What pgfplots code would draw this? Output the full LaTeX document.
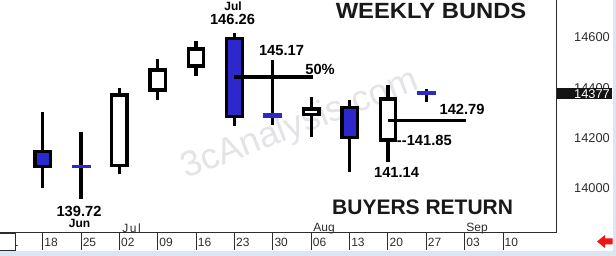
\documentclass[border=0pt]{standalone}
\usepackage{pgfplots}
\pgfplotsset{compat=1.18}
\usepackage{fontspec}
\setmainfont{Liberation Sans}
\definecolor{cblue}{RGB}{46,40,204}
\definecolor{wm}{RGB}{228,228,232}
\definecolor{lblue}{RGB}{220,230,243}
\definecolor{tgray}{RGB}{45,45,45}
\definecolor{arrowred}{RGB}{240,20,20}
\begin{document}
\begin{tikzpicture}[x=1pt,y=1pt]
\useasboundingbox (0pt,0pt) rectangle (616pt,256pt);
\fill[white] (0pt,0pt) rectangle (616pt,256pt);
\fill[lblue] (0pt,0pt) rectangle (616pt,5pt);
\fill[lblue] (612.5pt,0pt) rectangle (616pt,256pt);
\begin{axis}[
  at={(0pt,23pt)}, anchor=south west,
  width=556.7pt, height=233pt, scale only axis,
  xmin=-1.113, xmax=13.40,
  ymin=13823.4, ymax=14748,
  clip=false,
  scaled x ticks=false, scaled y ticks=false,
  axis x line*=bottom, axis y line*=right,
  axis line style={draw=tgray, line width=1pt},
  tick align=outside, major tick length=17pt,
  xtick={-1,0,...,12},
  xticklabels={11,18,25,02,09,16,23,30,06,13,20,27,03,10},
  xtick style={draw=tgray, line width=1pt},
  xticklabel style={anchor=north west, inner sep=0pt, xshift=1.5pt, yshift=12pt,
    font=\fontsize{12}{14}\selectfont, text=tgray},
  ytick={14000,14200,14400,14600},
  yticklabels={14000,14200,14400,14600},
  ytick style={draw=none},
  yticklabel style={anchor=east, inner sep=0pt, xshift=36.3pt,
    font=\fontsize{12.8}{14}\selectfont, text=tgray},
]
% watermark
\node[rotate=21, text=wm, font=\fontsize{36}{40}\selectfont] at (axis cs:6.71,14251) {3cAnalysis.com};

% wicks
\addplot[black, line width=3.3pt, unbounded coords=jump] coordinates {
 (0,14001) (0,14305) (0,nan)
 (1,13958) (1,14223) (1,nan)
 (2,14056) (2,14398) (2,nan)
 (3,14351) (3,14513) (3,nan)
 (4,14446) (4,14586) (4,nan)
 (5,14248) (5,14618) (5,nan)
 (6,14252) (6,14510) (6,nan)
 (7,14206) (7,14362) (7,nan)
 (8,14067) (8,14351) (8,nan)
 (9,14106) (9,14411) (9,nan)
 (10,14342) (10,14394)
};
% down (blue) bodies
\addplot[fill=cblue, draw=black, line width=3.3pt] coordinates {(-0.2,14087) (0.2,14087) (0.2,14147) (-0.2,14147)} -- cycle;
\addplot[fill=cblue, draw=black, line width=3.3pt] coordinates {(4.8,14286) (5.2,14286) (5.2,14595) (4.8,14595)} -- cycle;
\addplot[fill=cblue, draw=black, line width=3.3pt] coordinates {(7.8,14202) (8.2,14202) (8.2,14321) (7.8,14321)} -- cycle;
% up (white) bodies
\addplot[fill=white, draw=black, line width=3.3pt] coordinates {(1.8,14091) (2.2,14091) (2.2,14371) (1.8,14371)} -- cycle;
\addplot[fill=white, draw=black, line width=3.3pt] coordinates {(2.8,14391) (3.2,14391) (3.2,14470) (2.8,14470)} -- cycle;
\addplot[fill=white, draw=black, line width=3.3pt] coordinates {(3.8,14486) (4.2,14486) (4.2,14554) (3.8,14554)} -- cycle;
\addplot[fill=white, draw=black, line width=3.3pt] coordinates {(6.8,14294) (7.2,14294) (7.2,14315) (6.8,14315)} -- cycle;
\addplot[fill=white, draw=black, line width=3.3pt] coordinates {(8.8,14192) (9.2,14192) (9.2,14355) (8.8,14355)} -- cycle;
% doji dashes
\addplot[cblue, line width=2.7pt] coordinates {(0.752,14088) (1.248,14088)};
\addplot[cblue, line width=5pt] coordinates {(5.75,14288) (6.25,14288)};
\addplot[cblue, line width=4pt] coordinates {(9.755,14380) (10.255,14380)};
% level lines
\addplot[black, line width=3.3pt] coordinates {(5,14442) (7.04,14442)};
\addplot[black, line width=3.3pt] coordinates {(9,14271) (11.04,14271)};

% annotations
\node[font=\bfseries\fontsize{12}{14}\selectfont] at (axis cs:4.962,14724) {Jul};
\node[font=\bfseries\fontsize{14.7}{16}\selectfont] at (axis cs:4.949,14669) {146.26};
\node[font=\bfseries\fontsize{14.7}{16}\selectfont] at (axis cs:6.227,14546) {145.17};
\node[font=\bfseries\fontsize{14.7}{16}\selectfont] at (axis cs:7.231,14474) {50\%};
\node[font=\bfseries\fontsize{14.7}{16}\selectfont] at (axis cs:10.934,14312) {142.79};
\node[font=\bfseries\fontsize{14.7}{16}\selectfont, anchor=west, inner sep=0pt] at (axis cs:9.231,14190) {-{}-141.85};
\node[font=\bfseries\fontsize{14.7}{16}\selectfont] at (axis cs:9.226,14065.5) {141.14};
\node[font=\bfseries\fontsize{14.7}{16}\selectfont] at (axis cs:0.9465,13907) {139.72};
\node[font=\bfseries\fontsize{12}{14}\selectfont] at (axis cs:0.96,13861) {Jun};
\node[font=\fontsize{12}{14}\selectfont, text=tgray] at (axis cs:2.316,13841) {J\hspace{1.6pt}u\hspace{1.6pt}l};
\node[font=\fontsize{12}{14}\selectfont, text=tgray] at (axis cs:7.335,13841) {Aug};
\node[font=\fontsize{12}{14}\selectfont, text=tgray] at (axis cs:11.325,13841) {Sep};
\node[font=\bfseries\fontsize{22}{24}\selectfont, text=black!90] at (axis cs:10.125,14703) {\scalebox{1.08}[1]{WEEKLY BUNDS}};
\node[font=\bfseries\fontsize{21}{24}\selectfont, text=black!90] at (axis cs:9.904,13924.6) {BUYERS RETURN};
\end{axis}
% last price box
\fill[black!92] (556.7pt,157pt) rectangle (611.7pt,167.7pt);
\node[anchor=east, inner sep=0pt, text=white, font=\fontsize{12.8}{14}\selectfont] at (610pt,162.3pt) {14377};
% left scroll box
\draw[fill=white, draw=tgray, line width=0.8pt] (-1pt,5.5pt) rectangle (15pt,23pt);
% red arrow
\fill[arrowred] (597pt,14.5pt) -- (605pt,21pt) -- (605pt,17.5pt) -- (612.5pt,17.5pt) -- (612.5pt,11.5pt) -- (605pt,11.5pt) -- (605pt,8pt) -- cycle;
\end{tikzpicture}
\end{document}
